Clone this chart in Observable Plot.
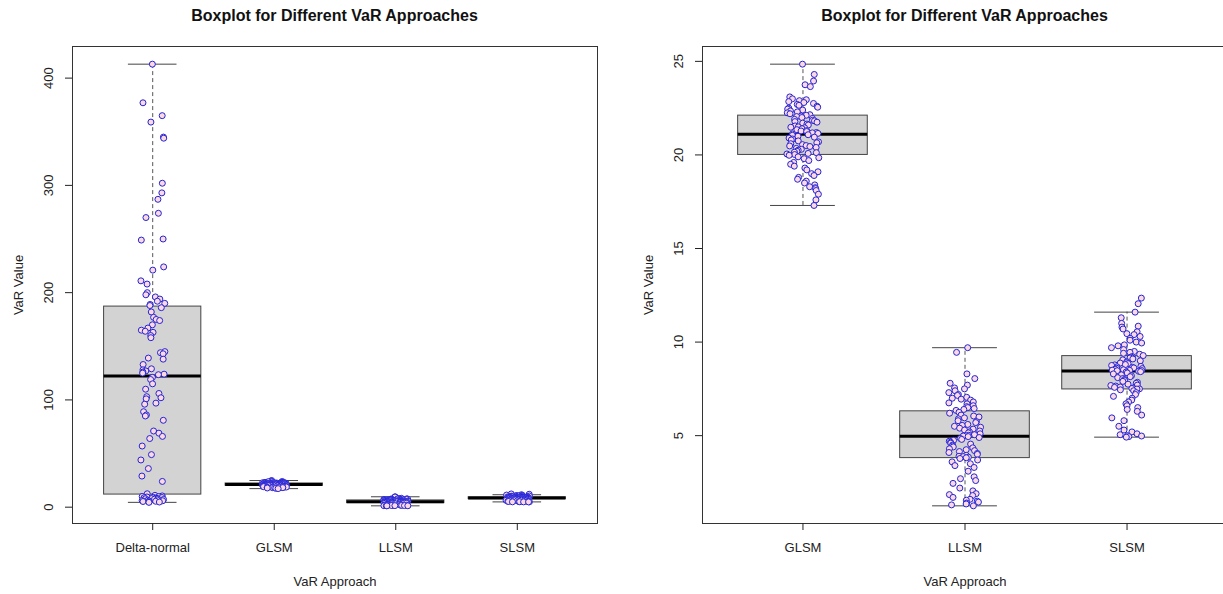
<!DOCTYPE html>
<html><head><meta charset="utf-8">
<script src="https://cdn.jsdelivr.net/npm/d3@7"></script>
<script src="https://cdn.jsdelivr.net/npm/@observablehq/plot@0.6"></script>
<style>
body{margin:0;background:#fff;font-family:"Liberation Sans",Arial,sans-serif;}
#wrap{position:relative;width:1223px;height:594px;overflow:hidden;background:#fff;}
.panel{position:absolute;top:0;height:594px;}
.title{height:31px;line-height:31px;font-weight:bold;font-size:16px;text-align:center;color:#111;}
</style></head><body>
<div id="wrap">
  <div class="panel" id="left" style="left:0;width:612px"><div class="title" style="margin-left:72px;width:525px">Boxplot for Different VaR Approaches</div></div>
  <div class="panel" id="right" style="left:612px;width:615px"><div class="title" style="margin-left:90px;width:525px">Boxplot for Different VaR Approaches</div></div>
</div>
<script>
// ---- data ----
const deltaNormal = [413, 377, 365, 359, 345, 344, 302, 293, 287, 274, 270, 250, 249, 224, 221, 211, 208, 200, 198, 196, 194, 192, 190, 189, 188,
  186, 182, 177, 175, 174, 170, 167, 165, 164, 163, 160, 158, 145, 144, 143, 139, 138, 133, 129, 128, 127, 126, 125, 124, 123.5,
  121, 119, 115, 110, 106, 103, 102, 101, 97, 96, 89, 86, 85, 81, 71, 69, 66, 64, 57, 49, 44, 36, 29, 24, 12.5,
  11, 10.5, 10, 9.8, 9.5, 9.2, 9, 8.8, 8.5, 8.2, 8, 7.8, 7.5, 7.2, 7, 6.8, 6.5, 6.2, 6, 5.8, 5.5, 5.3, 5, 4.8, 4.5];
const glsm = [24.85, 24.3, 23.95, 23.75, 23.65, 23.1, 23.0, 22.95, 22.9, 22.85, 22.8, 22.75, 22.7, 22.65, 22.6, 22.55, 22.5, 22.45, 22.4, 22.35, 22.3, 22.25, 22.2, 22.15, 22.12,
  22.08, 22.05, 22.0, 21.95, 21.9, 21.85, 21.82, 21.78, 21.75, 21.7, 21.65, 21.6, 21.55, 21.5, 21.48, 21.45, 21.4, 21.35, 21.3, 21.28, 21.25, 21.2, 21.18, 21.15, 21.12,
  21.08, 21.05, 21.0, 20.95, 20.9, 20.85, 20.8, 20.75, 20.7, 20.65, 20.6, 20.55, 20.5, 20.48, 20.45, 20.4, 20.35, 20.3, 20.25, 20.2, 20.15, 20.12, 20.08, 20.05, 20.02,
  19.98, 19.9, 19.85, 19.8, 19.7, 19.6, 19.5, 19.4, 19.3, 19.2, 19.1, 19.0, 18.9, 18.8, 18.7, 18.6, 18.5, 18.4, 18.3, 18.25, 18.2, 18.1, 17.9, 17.6, 17.3];
const llsm = [9.7, 9.45, 8.3, 8.05, 7.8, 7.7, 7.55, 7.5, 7.4, 7.3, 7.2, 7.15, 7.05, 7.0, 6.95, 6.9, 6.8, 6.75, 6.7, 6.6, 6.55, 6.5, 6.45, 6.4, 6.35,
  6.25, 6.2, 6.1, 6.05, 6.0, 5.95, 5.9, 5.8, 5.75, 5.7, 5.6, 5.55, 5.5, 5.45, 5.4, 5.35, 5.3, 5.25, 5.2, 5.15, 5.1, 5.05, 5.02, 5.0, 4.98,
  4.95, 4.9, 4.85, 4.8, 4.75, 4.7, 4.65, 4.6, 4.55, 4.5, 4.45, 4.4, 4.35, 4.3, 4.25, 4.2, 4.15, 4.1, 4.05, 4.0, 3.95, 3.9, 3.88, 3.85, 3.82,
  3.78, 3.7, 3.6, 3.5, 3.4, 3.3, 3.1, 2.8, 2.7, 2.6, 2.45, 2.2, 2.05, 1.9, 1.85, 1.8, 1.7, 1.6, 1.55, 1.5, 1.45, 1.4, 1.35, 1.3, 1.25];
const slsm = [12.35, 12.05, 11.6, 11.3, 11.0, 10.85, 10.8, 10.7, 10.55, 10.45, 10.4, 10.3, 10.2, 10.1, 10.0, 9.95, 9.85, 9.8, 9.7, 9.6, 9.5, 9.45, 9.4, 9.35, 9.28,
  9.22, 9.2, 9.15, 9.1, 9.05, 9.0, 8.95, 8.9, 8.88, 8.85, 8.8, 8.78, 8.75, 8.7, 8.68, 8.65, 8.62, 8.6, 8.58, 8.55, 8.52, 8.5, 8.49, 8.48, 8.47,
  8.44, 8.42, 8.4, 8.35, 8.3, 8.25, 8.2, 8.15, 8.1, 8.05, 8.0, 7.95, 7.9, 7.85, 7.8, 7.75, 7.7, 7.68, 7.65, 7.6, 7.58, 7.55, 7.52, 7.5, 7.49,
  7.45, 7.4, 7.3, 7.2, 7.1, 7.0, 6.9, 6.8, 6.7, 6.6, 6.5, 6.4, 6.3, 6.1, 5.95, 5.8, 5.5, 5.3, 5.2, 5.1, 5.05, 5.0, 4.98, 4.95, 4.92];

const leftCategories = ["Delta-normal", "GLSM", "LLSM", "SLSM"];
const rightCategories = ["GLSM", "LLSM", "SLSM"];
const leftYTicks = [0, 100, 200, 300, 400];
const rightYTicks = [5, 10, 15, 20, 25];
const xTitle = "VaR Approach";
const yTitle = "VaR Value";

const seriesByName = {"Delta-normal": deltaNormal, "GLSM": glsm, "LLSM": llsm, "SLSM": slsm};

// R's fivenum (Tukey hinges)
function fivenum(values) {
  const s = values.slice().sort((a, b) => a - b);
  const n = s.length;
  const n4 = Math.floor((n + 3) / 2) / 2;
  const d = [1, n4, (n + 1) / 2, n + 1 - n4, n];
  return d.map(p => 0.5 * (s[Math.floor(p) - 1] + s[Math.ceil(p) - 1]));
}

function panel(el, cats, yTicks, {width, marginLeft, marginRight, seed}) {
  const n = cats.length;
  const stats = cats.map((name, k) => {
    const v = seriesByName[name];
    const [, q1, med, q3] = fivenum(v);
    const iqr = q3 - q1;
    const lo = d3.min(v.filter(x => x >= q1 - 1.5 * iqr));
    const hi = d3.max(v.filter(x => x <= q3 + 1.5 * iqr));
    return {name, i: k + 1, q1, med, q3, lo, hi};
  });
  const rng = d3.randomLcg(seed);
  const points = cats.flatMap((name, k) => seriesByName[name].map(v => ({x: k + 1 + (rng() - 0.5) * 0.2, y: v})));
  const all = cats.flatMap(nm => seriesByName[nm]);
  const [ymin, ymax] = d3.extent(all);
  const pad = (ymax - ymin) * 0.04;
  const chart = Plot.plot({
    width, height: 563,
    marginTop: 15, marginBottom: 71, marginLeft, marginRight,
    x: {domain: [0.5 - 0.04 * n, n + 0.5 + 0.04 * n]},
    y: {domain: [ymin - pad, ymax + pad]},
    style: {fontFamily: "'Liberation Sans', Arial, sans-serif", fontSize: "13px", color: "#222", background: "transparent", maxWidth: "none", overflow: "visible"},
    marks: [
      Plot.ruleX(stats, {x: "i", y1: "q3", y2: "hi", stroke: "#555", strokeDasharray: "4,3"}),
      Plot.ruleX(stats, {x: "i", y1: "lo", y2: "q1", stroke: "#555", strokeDasharray: "4,3"}),
      Plot.ruleY(stats, {y: "hi", x1: d => d.i - 0.2, x2: d => d.i + 0.2, stroke: "#444"}),
      Plot.ruleY(stats, {y: "lo", x1: d => d.i - 0.2, x2: d => d.i + 0.2, stroke: "#444"}),
      Plot.rect(stats, {x1: d => d.i - 0.4, x2: d => d.i + 0.4, y1: "q1", y2: "q3", fill: "#d3d3d3", stroke: "#444"}),
      Plot.ruleY(stats, {y: "med", x1: d => d.i - 0.4, x2: d => d.i + 0.4, stroke: "#000", strokeWidth: 3}),
      Plot.dot(points, {x: "x", y: "y", r: 3, fill: "#fbd9df", stroke: "#2424d8", strokeWidth: 1}),
      Plot.frame({stroke: "#333"}),
      Plot.axisX({ticks: stats.map(d => d.i), tickFormat: i => cats[i - 1], tickSize: 7, tickPadding: 12, label: null, fontSize: 13}),
      Plot.axisY({ticks: yTicks, tickSize: 7, tickFormat: () => "", label: null}),
      Plot.text(yTicks, {y: d => d, text: d => String(d), frameAnchor: "left", dx: -24, rotate: -90, textAnchor: "middle", lineAnchor: "middle", fontSize: 13}),
      Plot.text([xTitle], {text: d => d, frameAnchor: "bottom", dy: 58, lineAnchor: "middle", fontSize: 13}),
      Plot.text([yTitle], {text: d => d, frameAnchor: "left", dx: -54, rotate: -90, textAnchor: "middle", lineAnchor: "middle", fontSize: 13})
    ]
  });
  el.appendChild(chart);
}

panel(document.getElementById("left"), leftCategories, leftYTicks, {width: 612, marginLeft: 72, marginRight: 15, seed: 0.17});
panel(document.getElementById("right"), rightCategories, rightYTicks, {width: 615, marginLeft: 90, marginRight: 0, seed: 0.53});
</script>
</body></html>
